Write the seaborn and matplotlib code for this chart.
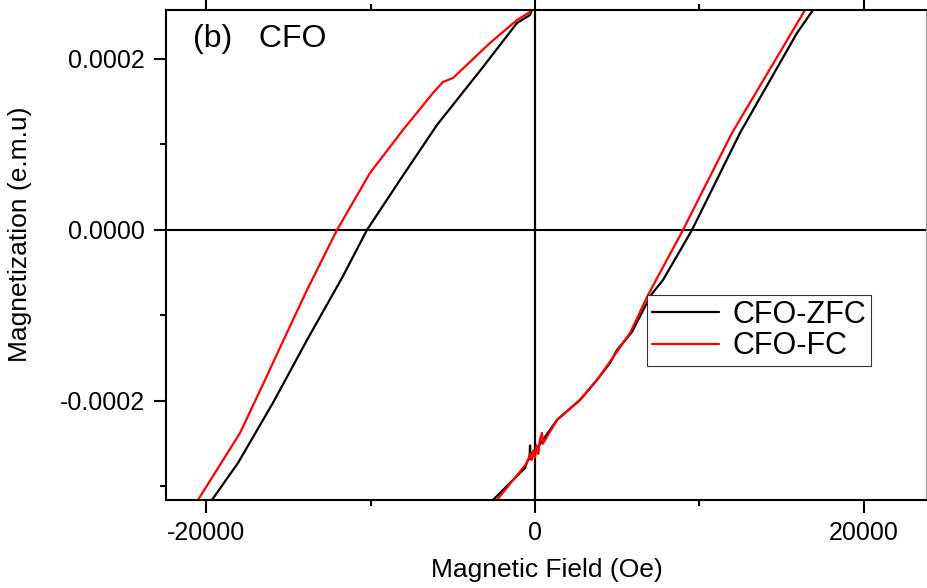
import matplotlib
matplotlib.use("Agg")
import matplotlib.pyplot as plt
import seaborn as sns

# CFO-ZFC loop, descending (top -> bottom left) and ascending (bottom -> top right) branches
zfc_down_h = [-100, -305, -1095, -3165, -5965, -8215, -10225, -11745, -13875, -15950, -18075, -19660, -20100]
zfc_down_m = [2.62e-4, 2.515e-4, 2.421e-4, 1.906e-4, 1.228e-4, 0.585e-4, 0.0, -0.561e-4,
              -1.287e-4, -2.023e-4, -2.725e-4, -3.158e-4, -3.27e-4]
zfc_up_h = [-2700, -2556, -609, -487, -330, -300, -280, -250, -122, 183, 1339, 2739, 3773,
            4565, 4990, 5903, 7060, 7790, 9555, 12476, 15945, 16919, 17150]
zfc_up_m = [-3.27e-4, -3.158e-4, -2.784e-4, -2.713e-4, -2.66e-4, -2.52e-4, -2.68e-4, -2.64e-4,
            -2.597e-4, -2.538e-4, -2.222e-4, -1.988e-4, -1.754e-4, -1.556e-4, -1.404e-4,
            -1.193e-4, -0.76e-4, -0.585e-4, 0.0, 1.135e-4, 2.304e-4, 2.573e-4, 2.65e-4]

# CFO-FC loop
fc_down_h = [-100, -305, -1095, -2740, -4990, -5600, -6210, -8035, -10040, -12050, -13875,
             -15215, -16430, -17950, -20510, -20800]
fc_down_m = [2.62e-4, 2.55e-4, 2.456e-4, 2.187e-4, 1.778e-4, 1.731e-4, 1.602e-4, 1.17e-4,
             0.667e-4, 0.0, -0.702e-4, -1.251e-4, -1.754e-4, -2.374e-4, -3.158e-4, -3.25e-4]
fc_up_h = [-2500, -2313, -487, -300, -200, -100, 0, 100, 200, 300, 426, 480, 1339, 2739,
           3773, 4565, 5800, 6877, 9007, 11990, 16432, 16600]
fc_up_m = [-3.25e-4, -3.158e-4, -2.725e-4, -2.62e-4, -2.69e-4, -2.58e-4, -2.66e-4, -2.52e-4,
           -2.62e-4, -2.45e-4, -2.374e-4, -2.5e-4, -2.222e-4, -1.988e-4, -1.754e-4, -1.54e-4,
           -1.2e-4, -0.76e-4, 0.0, 1.135e-4, 2.573e-4, 2.65e-4]

x_ticks = [-20000, 0, 20000]
x_tick_labels = ["-20000", "0", "20000"]
y_ticks = [-0.0002, 0.0, 0.0002]
y_tick_labels = ["-0.0002", "0.0000", "0.0002"]

sns.set_style("ticks")
plt.rcParams["font.family"] = ["Liberation Sans", "DejaVu Sans"]
plt.rcParams["axes.unicode_minus"] = False
plt.rcParams["text.color"] = "black"
plt.rcParams["axes.labelcolor"] = "black"
plt.rcParams["xtick.color"] = "black"
plt.rcParams["ytick.color"] = "black"

fig = plt.figure(figsize=(9.27, 5.88), dpi=100)
ax = fig.add_axes([0.179, 0.1497, 0.820, 0.8333])

ax.axhline(0, color="black", lw=1.5, zorder=1)
ax.axvline(0, color="black", lw=1.6, zorder=1)

sns.lineplot(x=zfc_down_h, y=zfc_down_m, sort=False, estimator=None, color="black", lw=1.6,
             label="CFO-ZFC", ax=ax)
sns.lineplot(x=zfc_up_h, y=zfc_up_m, sort=False, estimator=None, color="black", lw=1.6, ax=ax)
sns.lineplot(x=fc_down_h, y=fc_down_m, sort=False, estimator=None, color="red", lw=1.6,
             label="CFO-FC", ax=ax)
sns.lineplot(x=fc_up_h, y=fc_up_m, sort=False, estimator=None, color="red", lw=1.6, ax=ax)

ax.set_xlim(-22460, 23800)
ax.set_ylim(-0.0003158, 0.0002573)

ax.set_xticks(x_ticks)
ax.set_xticklabels(x_tick_labels)
ax.set_xticks([-10000, 10000], minor=True)
ax.set_yticks(y_ticks)
ax.set_yticklabels(y_tick_labels)
ax.set_yticks([-0.0003, -0.0001, 0.0001], minor=True)

ax.tick_params(which="major", direction="out", length=9, width=1.5, labelsize=18, pad=6,
               top=True, right=False, colors="black")
ax.tick_params(which="minor", direction="out", length=4.5, width=1.5, top=True, right=False)

for side in ["left", "bottom", "top"]:
    ax.spines[side].set_linewidth(1.5)
    ax.spines[side].set_color("black")
ax.spines["right"].set_linewidth(0.8)
ax.spines["right"].set_color("#999999")

ax.set_xlabel("Magnetic Field (Oe)", fontsize=19, color="black")
ax.set_ylabel("Magnetization (e.m.u)", fontsize=19, color="black")
ax.xaxis.set_label_coords(0.501, -0.118)
ax.yaxis.set_label_coords(-0.176, 0.543)

ax.text(0.036, 0.972, "(b)   CFO", transform=ax.transAxes, fontsize=23, va="top", ha="left",
        color="black")

leg = ax.legend(loc="upper left", bbox_to_anchor=(0.633, 0.418), borderaxespad=0,
                fontsize=22, fancybox=False, frameon=True, handlelength=2.2,
                handletextpad=0.45, borderpad=0.15, labelspacing=0.05)
leg.get_frame().set_edgecolor("#333333")
leg.get_frame().set_linewidth(0.8)
leg.get_frame().set_alpha(1)
for t in leg.get_texts():
    t.set_color("black")

fig.savefig("out.png", dpi=100)
